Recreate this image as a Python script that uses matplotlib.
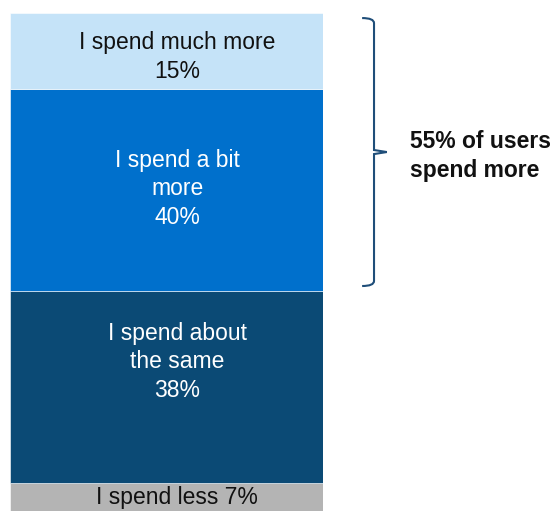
import matplotlib.pyplot as plt
from matplotlib.path import Path
from matplotlib.patches import PathPatch

plt.rcParams['font.family'] = ['Liberation Sans', 'DejaVu Sans']

# stacked from the bottom up
labels = ["I spend less 7%", "I spend about\nthe same\n38%", "I spend a bit\nmore\n40%", "I spend much more\n15%"]
shares = [7, 38, 40, 15]
colors = ["#b4b4b4", "#0b4a75", "#0070cc", "#c5e3f8"]
text_colors = ["#111111", "white", "white", "#111111"]
label_shift = [0.7, 5.0, 0.2, -1.2]   # nudge of text from segment centre
note = "55% of users\nspend more"

fig = plt.figure(figsize=(5.6, 5.11), dpi=100)
ax = fig.add_axes([10/560, 0, 313/560, 498/511])

bottom = 0
mids = []
for s, c in zip(shares, colors):
    ax.bar(0.5, s, width=1.0, bottom=bottom, color=c, edgecolor="white", linewidth=0.4)
    mids.append(bottom + s/2)
    bottom += s

ax.set_xlim(0, 1)
ax.set_ylim(1.5, 100)
ax.axis("off")

for lab, m, tc, sh in zip(labels, mids, text_colors, label_shift):
    ax.text(0.534, m + sh, lab, ha="center", va="center", color=tc,
            fontsize=16.5, linespacing=1.3)

# brace over the two "more" segments
top = sum(shares) - 1
low = shares[0] + shares[1] + 1
mid = (top + low) / 2
x0, x1, x2 = 1.125, 1.163, 1.204
r = 1.0
verts = [(x0, top), (x1, top), (x1, top - r),
         (x1, mid + 0.4), (x2, mid), (x1, mid - 0.4),
         (x1, low + r), (x1, low), (x0, low)]
codes = [Path.MOVETO, Path.CURVE3, Path.CURVE3,
         Path.LINETO, Path.LINETO, Path.LINETO,
         Path.LINETO, Path.CURVE3, Path.CURVE3]
ax.add_patch(PathPatch(Path(verts, codes), facecolor="none", edgecolor="#1f4e79",
                       linewidth=1.5, clip_on=False))

ax.text(1.278, mid - 0.8, note, ha="left", va="center", fontsize=16.5,
        fontweight="bold", color="#111111", linespacing=1.3)

fig.savefig("out.png", dpi=100)
